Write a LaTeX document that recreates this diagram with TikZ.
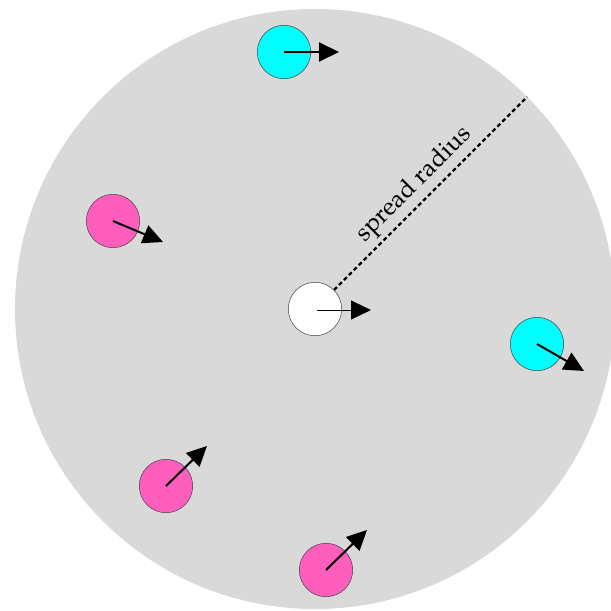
\documentclass[tikz,border=0pt]{standalone}
\usepackage[T1]{fontenc}
\usepackage{mathpazo}
\usetikzlibrary{arrows.meta,calc}

\definecolor{zonegray}{HTML}{D9D9D9}
\definecolor{agentcyan}{HTML}{00FFFF}
\definecolor{agentpink}{HTML}{FF5EBC}

\tikzset{
  agent/.style={circle, minimum size=53.4pt, inner sep=0pt, draw=black!75, line width=0.5pt},
  heading/.style={-{Triangle[length=20pt,width=19pt]}, line width=2pt, black},
  thinheading/.style={-{Triangle[length=20pt,width=19pt]}, line width=1pt, black},
  radiusline/.style={line width=2.2pt, dash pattern=on 4pt off 3pt},
}

\begin{document}
\begin{tikzpicture}[x=1pt,y=-1pt]
  \useasboundingbox (0,0) rectangle (611,611);

  % spread zone
  \fill[zonegray] (315,309) circle (300);

  % agents
  \node[agent, fill=white]      (self) at (315,309) {};
  \node[agent, fill=agentcyan]  (c1)   at (284,52)  {};
  \node[agent, fill=agentcyan]  (c2)   at (537,344) {};
  \node[agent, fill=agentpink]  (p1)   at (113,221) {};
  \node[agent, fill=agentpink]  (p2)   at (166,486) {};
  \node[agent, fill=agentpink]  (p3)   at (326,570) {};

  % spread radius
  \coordinate (rim) at ($(self.center)+(-45:300)$);
  \draw[radiusline] (self.45) -- (rim);
  \node[rotate=45, anchor=base, inner sep=0pt, font=\fontsize{25}{30}\selectfont]
    (lbl) at ($(self.center)+(-45:158)+(-135:12)$) {spread radius};

  % heading vectors
  \coordinate (selftip) at (371,310);
  \coordinate (c1tip) at (339,52);
  \coordinate (c2tip) at (584,371);
  \coordinate (p1tip) at (163,242);
  \coordinate (p2tip) at (207,446);
  \coordinate (p3tip) at (367,530);

  \draw[thinheading] (317,310) -- (selftip);
  \draw[heading] (c1.center) -- (c1tip);
  \draw[heading] (c2.center) -- (c2tip);
  \draw[heading] (p1.center) -- (p1tip);
  \draw[heading] (p2.center) -- (p2tip);
  \draw[heading] (p3.center) -- (p3tip);
\end{tikzpicture}
\end{document}
